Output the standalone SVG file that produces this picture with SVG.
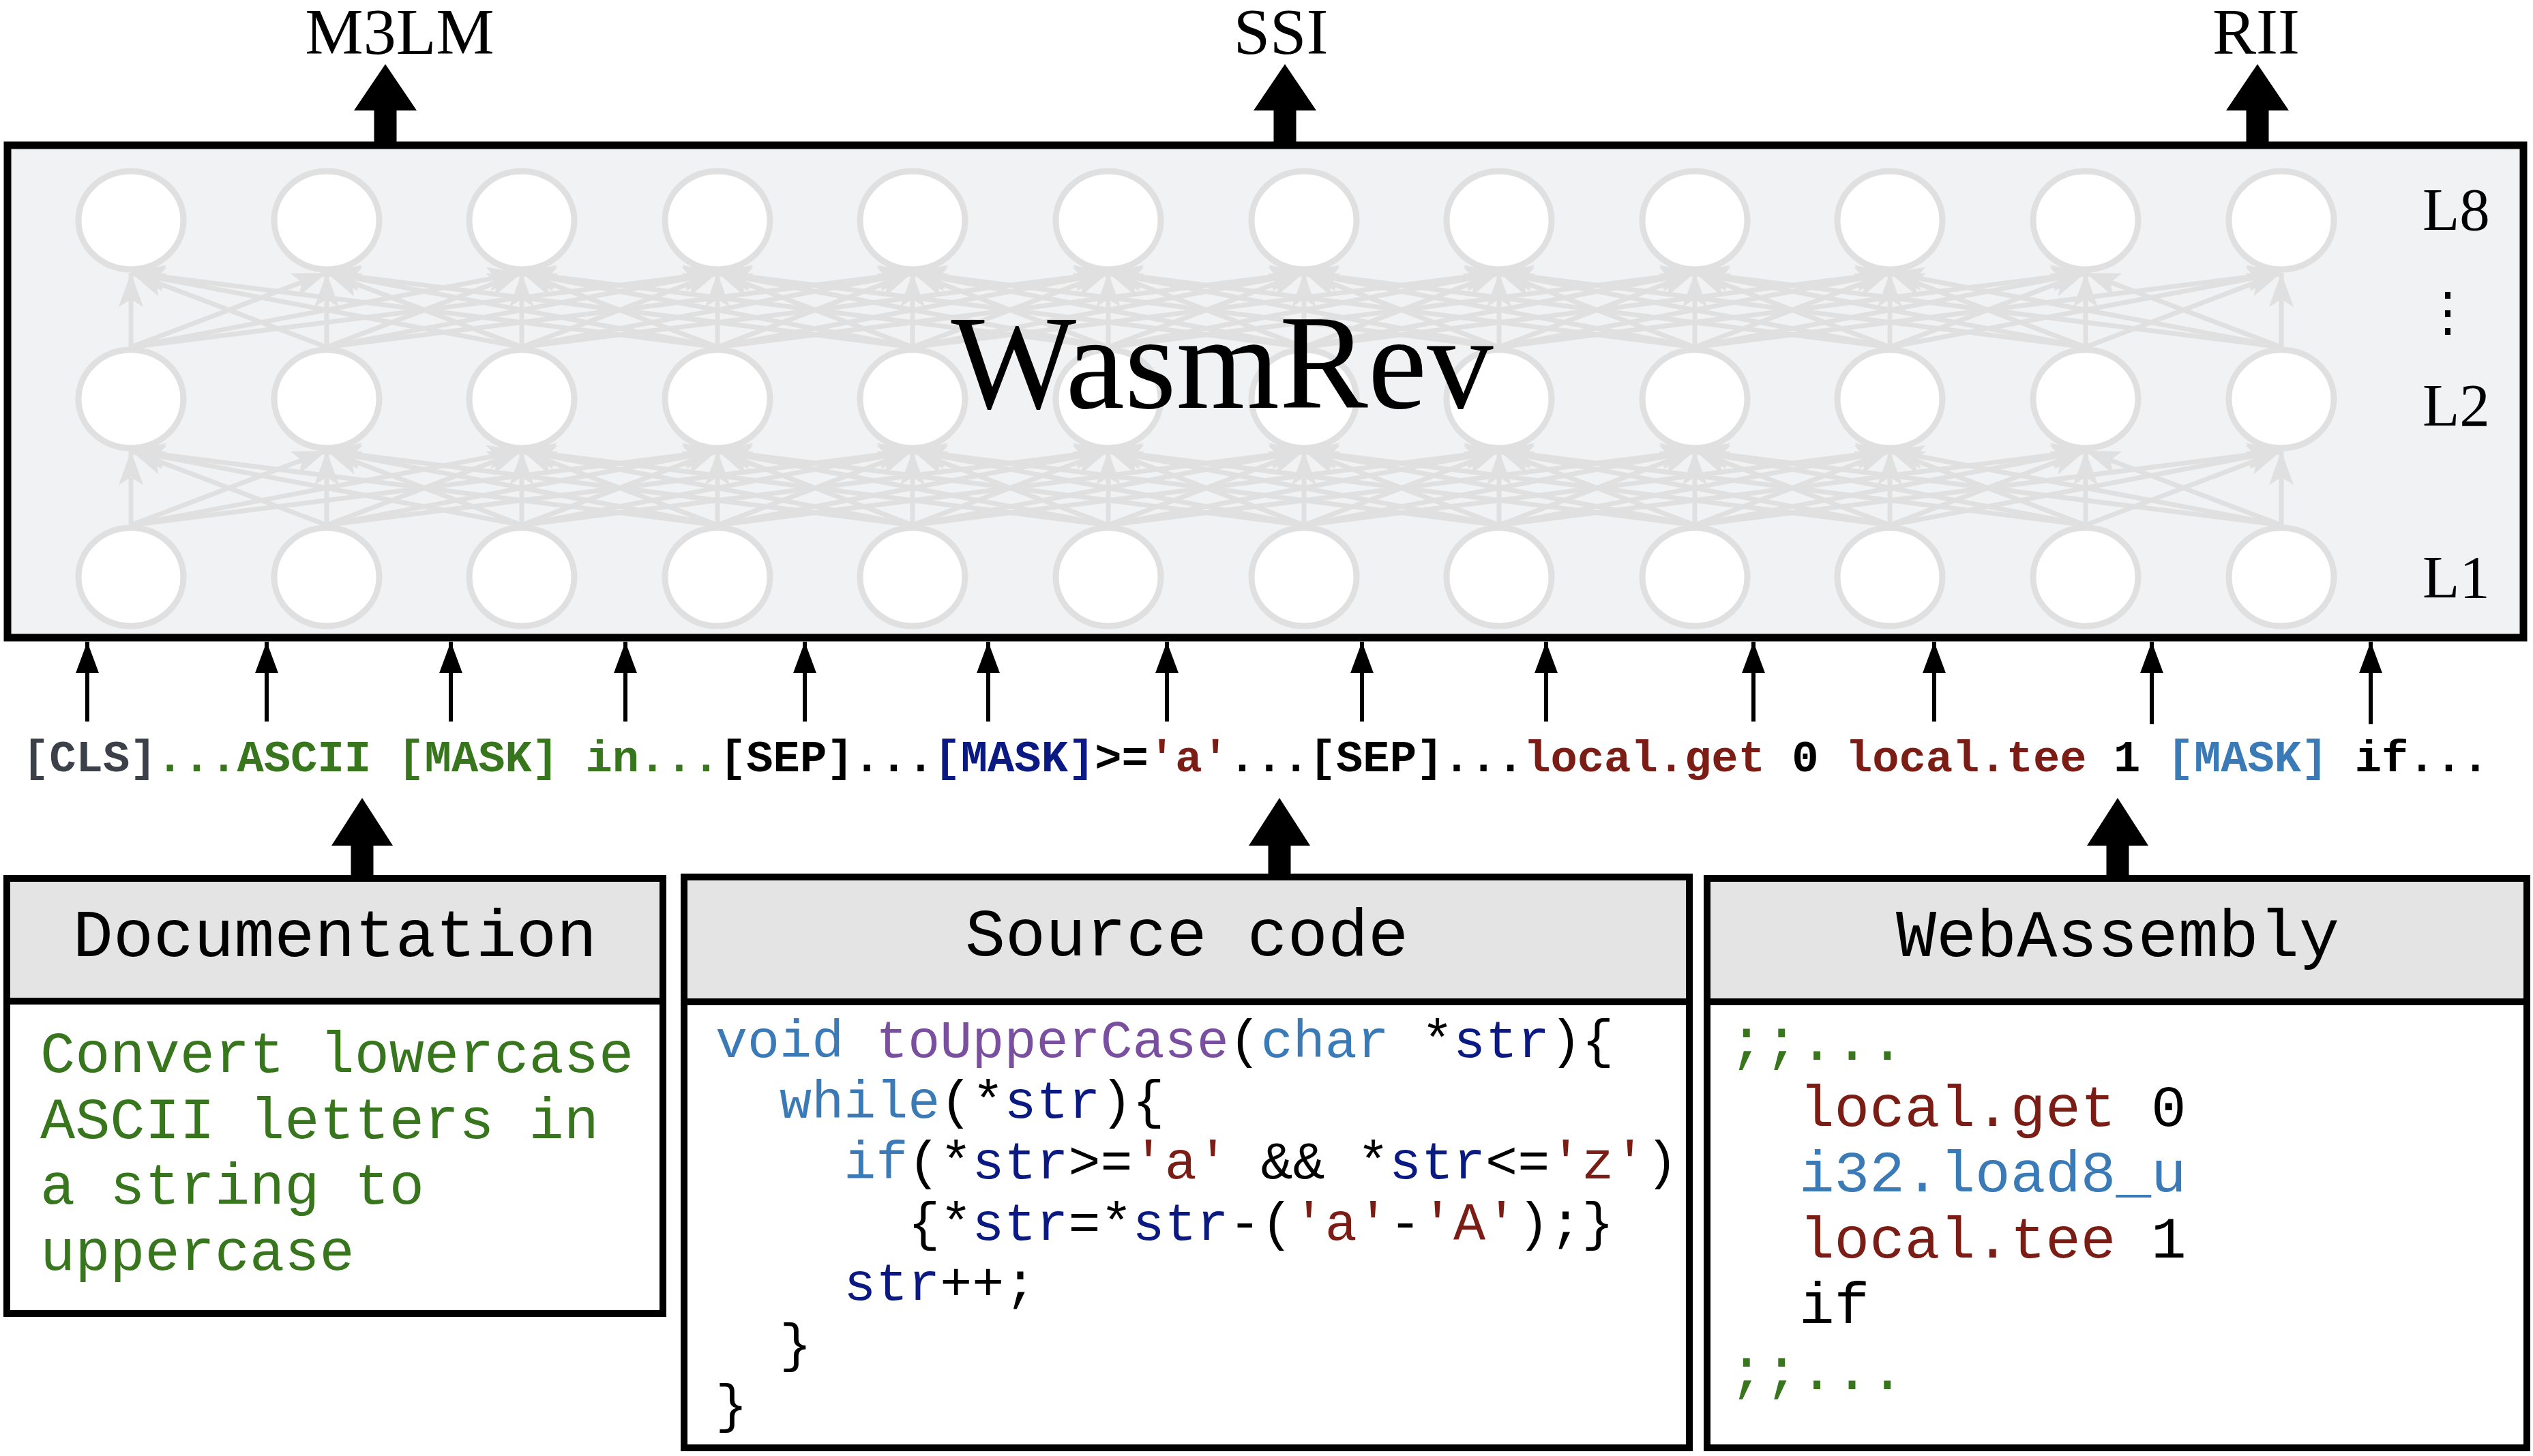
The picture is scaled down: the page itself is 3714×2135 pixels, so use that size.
<svg xmlns="http://www.w3.org/2000/svg" width="3714" height="2135" viewBox="0 0 3714 2135">
<style>
.serif{font-family:"Liberation Serif","Times New Roman",serif;fill:#000}
.mono{font-family:"Liberation Mono","Courier New",monospace}
.tok{font-family:"Liberation Mono","Courier New",monospace;font-weight:bold;font-size:65.5px;fill:#000}
.nl{fill:none;stroke:#e0e0e0;stroke-width:7;marker-end:url(#ga)}
.nr{fill:#fff;stroke:#e0e0e0;stroke-width:9}
.sa{fill:none;stroke:#000;stroke-width:6;marker-end:url(#ba)}
.big{fill:#000}
.hdr{fill:#e4e4e4;stroke:#000;stroke-width:10}
.bdy{fill:#fff;stroke:#000;stroke-width:10}
.kw{fill:#3a7bb7}.fn{fill:#7b4fa0}.id{fill:#0b1a82}.st{fill:#7b1c15}.gr{fill:#38761d}
</style>
<defs>
<marker id="ga" markerUnits="userSpaceOnUse" markerWidth="1" markerHeight="1" refX="0" refY="0" orient="auto" overflow="visible"><path d="M0,0 L-50,-18 L-39,0 L-50,18 Z" fill="#e0e0e0"/></marker>
<marker id="ba" markerUnits="userSpaceOnUse" markerWidth="1" markerHeight="1" refX="0" refY="0" orient="auto" overflow="visible"><path d="M0,0 L-46,-17 L-46,17 Z" fill="#000"/></marker>
</defs>
<rect width="3714" height="2135" fill="#fff"/>

<g id="wasmrev-box">
<rect x="11" y="213" width="3689" height="722" fill="#f1f2f4" stroke="#000" stroke-width="11"/>
</g>

<g id="connectors">
<g id="gap1">
<path class="nl" d="M192 770L192 661"/><path class="nl" d="M192 770L479 661"/><path class="nl" d="M192 770L765 661"/><path class="nl" d="M192 770L1052 661"/>
<path class="nl" d="M479 770L192 661"/><path class="nl" d="M479 770L479 661"/><path class="nl" d="M479 770L765 661"/><path class="nl" d="M479 770L1052 661"/><path class="nl" d="M479 770L1338 661"/>
<path class="nl" d="M765 770L192 661"/><path class="nl" d="M765 770L479 661"/><path class="nl" d="M765 770L765 661"/><path class="nl" d="M765 770L1052 661"/><path class="nl" d="M765 770L1338 661"/><path class="nl" d="M765 770L1625 661"/>
<path class="nl" d="M1052 770L192 661"/><path class="nl" d="M1052 770L479 661"/><path class="nl" d="M1052 770L765 661"/><path class="nl" d="M1052 770L1052 661"/><path class="nl" d="M1052 770L1338 661"/><path class="nl" d="M1052 770L1625 661"/><path class="nl" d="M1052 770L1912 661"/>
<path class="nl" d="M1338 770L479 661"/><path class="nl" d="M1338 770L765 661"/><path class="nl" d="M1338 770L1052 661"/><path class="nl" d="M1338 770L1338 661"/><path class="nl" d="M1338 770L1625 661"/><path class="nl" d="M1338 770L1912 661"/><path class="nl" d="M1338 770L2198 661"/>
<path class="nl" d="M1625 770L765 661"/><path class="nl" d="M1625 770L1052 661"/><path class="nl" d="M1625 770L1338 661"/><path class="nl" d="M1625 770L1625 661"/><path class="nl" d="M1625 770L1912 661"/><path class="nl" d="M1625 770L2198 661"/><path class="nl" d="M1625 770L2485 661"/>
<path class="nl" d="M1912 770L1052 661"/><path class="nl" d="M1912 770L1338 661"/><path class="nl" d="M1912 770L1625 661"/><path class="nl" d="M1912 770L1912 661"/><path class="nl" d="M1912 770L2198 661"/><path class="nl" d="M1912 770L2485 661"/><path class="nl" d="M1912 770L2771 661"/>
<path class="nl" d="M2198 770L1338 661"/><path class="nl" d="M2198 770L1625 661"/><path class="nl" d="M2198 770L1912 661"/><path class="nl" d="M2198 770L2198 661"/><path class="nl" d="M2198 770L2485 661"/><path class="nl" d="M2198 770L2771 661"/><path class="nl" d="M2198 770L3058 661"/>
<path class="nl" d="M2485 770L1625 661"/><path class="nl" d="M2485 770L1912 661"/><path class="nl" d="M2485 770L2198 661"/><path class="nl" d="M2485 770L2485 661"/><path class="nl" d="M2485 770L2771 661"/><path class="nl" d="M2485 770L3058 661"/><path class="nl" d="M2485 770L3345 661"/>
<path class="nl" d="M2771 770L1912 661"/><path class="nl" d="M2771 770L2198 661"/><path class="nl" d="M2771 770L2485 661"/><path class="nl" d="M2771 770L2771 661"/><path class="nl" d="M2771 770L3058 661"/><path class="nl" d="M2771 770L3345 661"/>
<path class="nl" d="M3058 770L2198 661"/><path class="nl" d="M3058 770L2485 661"/><path class="nl" d="M3058 770L2771 661"/><path class="nl" d="M3058 770L3058 661"/><path class="nl" d="M3058 770L3345 661"/>
<path class="nl" d="M3345 770L2485 661"/><path class="nl" d="M3345 770L2771 661"/><path class="nl" d="M3345 770L3058 661"/><path class="nl" d="M3345 770L3345 661"/>
</g>
<use href="#gap1" transform="translate(0,-261)"/>

<g id="token-arrows">
<path class="sa" d="M128 1058L128 941"/><path class="sa" d="M391 1058L391 941"/><path class="sa" d="M661 1058L661 941"/><path class="sa" d="M917 1058L917 941"/><path class="sa" d="M1180 1058L1180 941"/><path class="sa" d="M1449 1058L1449 941"/><path class="sa" d="M1711 1058L1711 941"/><path class="sa" d="M1997 1058L1997 941"/><path class="sa" d="M2267 1058L2267 941"/><path class="sa" d="M2571 1058L2571 941"/><path class="sa" d="M2836 1058L2836 941"/><path class="sa" d="M3155 1062L3155 941"/><path class="sa" d="M3476 1062L3476 941"/>
</g>
<g id="task-arrows">
<path class="big" d="M548.5 213L548.5 162L519 162L565 94L611 162L581.5 162L581.5 213Z"/>
<path class="big" d="M1867.5 213L1867.5 162L1838 162L1884 94L1930 162L1900.5 162L1900.5 213Z"/>
<path class="big" d="M3293.5 213L3293.5 162L3264 162L3310 94L3356 162L3326.5 162L3326.5 213Z"/>
</g>
<g id="input-arrows">
<path class="big" d="M514.5 1286L514.5 1240L486 1240L531 1170L576 1240L547.5 1240L547.5 1286Z"/>
<path class="big" d="M1859.5 1286L1859.5 1240L1831 1240L1876 1170L1921 1240L1892.5 1240L1892.5 1286Z"/>
<path class="big" d="M3088.5 1286L3088.5 1240L3060 1240L3105 1170L3150 1240L3121.5 1240L3121.5 1286Z"/>
</g>
</g>

<g id="neurons">
<g id="l8-0"><ellipse class="nr" cx="192" cy="323" rx="77" ry="72"/></g>
<g id="l8-1"><ellipse class="nr" cx="479" cy="323" rx="77" ry="72"/></g>
<g id="l8-2"><ellipse class="nr" cx="765" cy="323" rx="77" ry="72"/></g>
<g id="l8-3"><ellipse class="nr" cx="1052" cy="323" rx="77" ry="72"/></g>
<g id="l8-4"><ellipse class="nr" cx="1338" cy="323" rx="77" ry="72"/></g>
<g id="l8-5"><ellipse class="nr" cx="1625" cy="323" rx="77" ry="72"/></g>
<g id="l8-6"><ellipse class="nr" cx="1912" cy="323" rx="77" ry="72"/></g>
<g id="l8-7"><ellipse class="nr" cx="2198" cy="323" rx="77" ry="72"/></g>
<g id="l8-8"><ellipse class="nr" cx="2485" cy="323" rx="77" ry="72"/></g>
<g id="l8-9"><ellipse class="nr" cx="2771" cy="323" rx="77" ry="72"/></g>
<g id="l8-10"><ellipse class="nr" cx="3058" cy="323" rx="77" ry="72"/></g>
<g id="l8-11"><ellipse class="nr" cx="3345" cy="323" rx="77" ry="72"/></g>
<g id="l2-0"><ellipse class="nr" cx="192" cy="585" rx="77" ry="72"/></g>
<g id="l2-1"><ellipse class="nr" cx="479" cy="585" rx="77" ry="72"/></g>
<g id="l2-2"><ellipse class="nr" cx="765" cy="585" rx="77" ry="72"/></g>
<g id="l2-3"><ellipse class="nr" cx="1052" cy="585" rx="77" ry="72"/></g>
<g id="l2-4"><ellipse class="nr" cx="1338" cy="585" rx="77" ry="72"/></g>
<g id="l2-5"><ellipse class="nr" cx="1625" cy="585" rx="77" ry="72"/></g>
<g id="l2-6"><ellipse class="nr" cx="1912" cy="585" rx="77" ry="72"/></g>
<g id="l2-7"><ellipse class="nr" cx="2198" cy="585" rx="77" ry="72"/></g>
<g id="l2-8"><ellipse class="nr" cx="2485" cy="585" rx="77" ry="72"/></g>
<g id="l2-9"><ellipse class="nr" cx="2771" cy="585" rx="77" ry="72"/></g>
<g id="l2-10"><ellipse class="nr" cx="3058" cy="585" rx="77" ry="72"/></g>
<g id="l2-11"><ellipse class="nr" cx="3345" cy="585" rx="77" ry="72"/></g>
<g id="l1-0"><ellipse class="nr" cx="192" cy="846" rx="77" ry="72"/></g>
<g id="l1-1"><ellipse class="nr" cx="479" cy="846" rx="77" ry="72"/></g>
<g id="l1-2"><ellipse class="nr" cx="765" cy="846" rx="77" ry="72"/></g>
<g id="l1-3"><ellipse class="nr" cx="1052" cy="846" rx="77" ry="72"/></g>
<g id="l1-4"><ellipse class="nr" cx="1338" cy="846" rx="77" ry="72"/></g>
<g id="l1-5"><ellipse class="nr" cx="1625" cy="846" rx="77" ry="72"/></g>
<g id="l1-6"><ellipse class="nr" cx="1912" cy="846" rx="77" ry="72"/></g>
<g id="l1-7"><ellipse class="nr" cx="2198" cy="846" rx="77" ry="72"/></g>
<g id="l1-8"><ellipse class="nr" cx="2485" cy="846" rx="77" ry="72"/></g>
<g id="l1-9"><ellipse class="nr" cx="2771" cy="846" rx="77" ry="72"/></g>
<g id="l1-10"><ellipse class="nr" cx="3058" cy="846" rx="77" ry="72"/></g>
<g id="l1-11"><ellipse class="nr" cx="3345" cy="846" rx="77" ry="72"/></g>
</g>

<g id="wasmrev-labels">
<text class="serif" x="1792" y="598" font-size="198" text-anchor="middle" textLength="795" lengthAdjust="spacingAndGlyphs">WasmRev</text>
<text class="serif" x="3552" y="337" font-size="89">L8</text>
<text x="3589" y="484" font-size="78" text-anchor="middle" style="font-family:'DejaVu Serif',serif">⋮</text>
<text class="serif" x="3552" y="624" font-size="89">L2</text>
<text class="serif" x="3552" y="876" font-size="89">L1</text>
</g>

<g id="task-m3lm"><text class="serif" x="586" y="79" font-size="96" text-anchor="middle">M3LM</text></g>
<g id="task-ssi"><text class="serif" x="1878" y="79" font-size="96" text-anchor="middle">SSI</text></g>
<g id="task-rii"><text class="serif" x="3308" y="79" font-size="96" text-anchor="middle">RII</text></g>

<g id="tokens">
<text class="tok" x="33" y="1131" xml:space="preserve"><tspan fill="#3c4149">[CLS]</tspan><tspan class="gr">...ASCII [MASK] in...</tspan><tspan>[SEP]...</tspan><tspan class="id">[MASK]</tspan><tspan>&gt;=</tspan><tspan class="st">'a'</tspan><tspan>...[SEP]...</tspan><tspan class="st">local.get</tspan><tspan> 0 </tspan><tspan class="st">local.tee</tspan><tspan> 1 </tspan><tspan class="kw">[MASK]</tspan><tspan> if...</tspan></text>
</g>

<g id="documentation">
<rect class="bdy" x="10" y="1468" width="962" height="458"/>
<rect class="hdr" x="10" y="1288" width="962" height="180"/>
<text class="mono" x="491" y="1402" font-size="98.5" text-anchor="middle">Documentation</text>
<g class="mono gr" font-size="85.3">
<text x="59" y="1572">Convert lowercase</text>
<text x="59" y="1669">ASCII letters in</text>
<text x="59" y="1765">a string to</text>
<text x="59" y="1862">uppercase</text>
</g>
</g>

<g id="source-code">
<rect class="bdy" x="1003" y="1469" width="1474" height="654"/>
<rect class="hdr" x="1003" y="1286" width="1474" height="183"/>
<text class="mono" x="1740" y="1401" font-size="98.5" text-anchor="middle">Source code</text>
<g class="mono" font-size="78.4">
<text x="1049" y="1550" xml:space="preserve"><tspan class="kw">void</tspan> <tspan class="fn">toUpperCase</tspan>(<tspan class="kw">char</tspan> *<tspan class="id">str</tspan>){</text>
<text x="1143.1" y="1639" xml:space="preserve"><tspan class="kw">while</tspan>(*<tspan class="id">str</tspan>){</text>
<text x="1237.2" y="1728" xml:space="preserve"><tspan class="kw">if</tspan>(*<tspan class="id">str</tspan>&gt;=<tspan class="st">'a'</tspan> &amp;&amp; *<tspan class="id">str</tspan>&lt;=<tspan class="st">'z'</tspan>)</text>
<text x="1331.2" y="1818" xml:space="preserve">{*<tspan class="id">str</tspan>=*<tspan class="id">str</tspan>-(<tspan class="st">'a'</tspan>-<tspan class="st">'A'</tspan>);}</text>
<text x="1237.2" y="1906" xml:space="preserve"><tspan class="id">str</tspan>++;</text>
<text x="1143.1" y="1996">}</text>
<text x="1049" y="2085">}</text>
</g>
</g>

<g id="webassembly">
<rect class="bdy" x="2503" y="1469" width="1202" height="654"/>
<rect class="hdr" x="2503" y="1288" width="1202" height="181"/>
<text class="mono" x="3105" y="1402" font-size="98.5" text-anchor="middle">WebAssembly</text>
<g class="mono" font-size="86">
<text class="gr" x="2535" y="1554">;;...</text>
<text x="2638" y="1651" xml:space="preserve"><tspan class="st">local.get</tspan> 0</text>
<text class="kw" x="2638" y="1747">i32.load8_u</text>
<text x="2638" y="1844" xml:space="preserve"><tspan class="st">local.tee</tspan> 1</text>
<text x="2638" y="1940">if</text>
<text class="gr" x="2535" y="2037">;;...</text>
</g>
</g>
</svg>
